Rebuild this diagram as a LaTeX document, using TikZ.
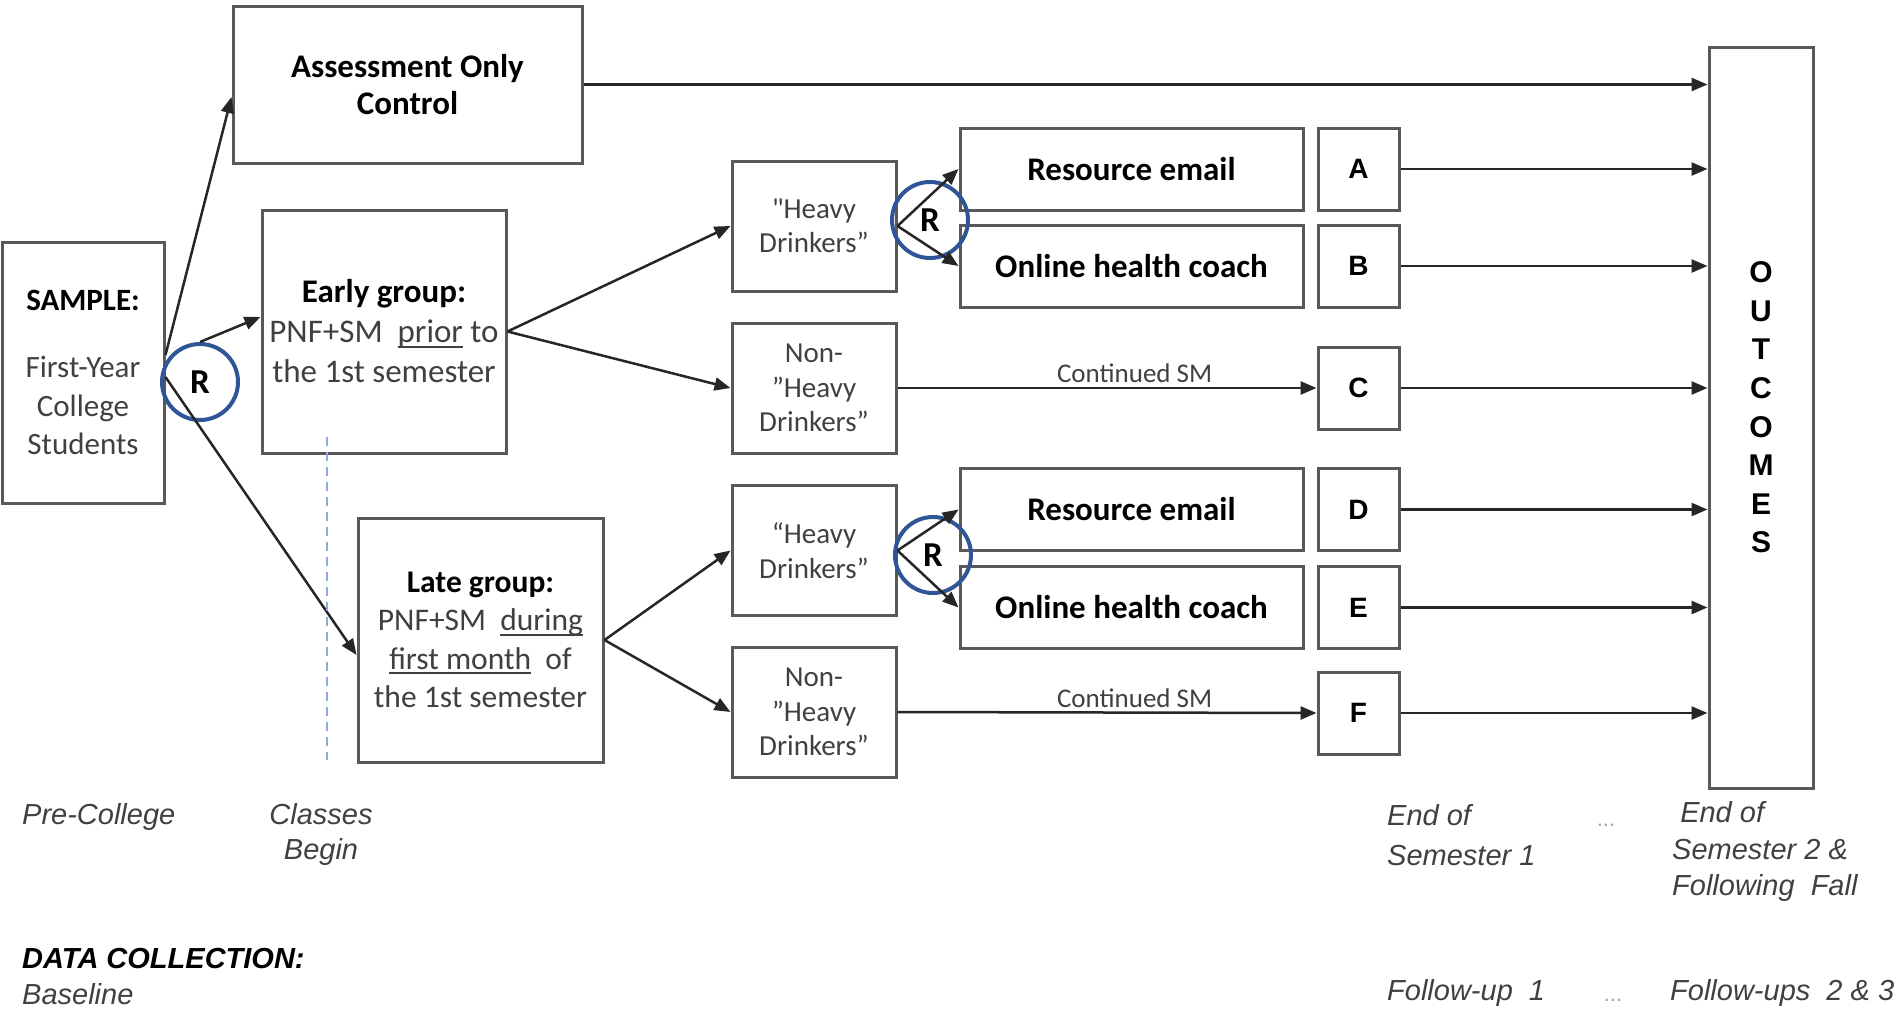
\documentclass[tikz,border=0pt]{standalone}
\usepackage{fontspec}
\setmainfont{Carlito}
\newfontfamily\arialfont{Liberation Sans}
\usetikzlibrary{arrows.meta}
\definecolor{boxgray}{HTML}{595959}
\definecolor{textgray}{HTML}{404040}
\definecolor{rblue}{HTML}{2F5597}
\definecolor{dashblue}{HTML}{8FAADC}
\definecolor{dotgray}{HTML}{A6A6A6}
\newcommand{\samplefont}{\fontsize{31}{38.5}\selectfont}
\newcommand{\assessfont}{\fontsize{33}{37}\selectfont\bfseries}
\newcommand{\earlyfont}{\fontsize{33}{40}\selectfont}
\newcommand{\latefont}{\fontsize{31.5}{38.3}\selectfont}
\newcommand{\drinkfont}{\fontsize{29}{34.5}\selectfont}
\newcommand{\armfont}{\fontsize{33}{40}\selectfont\bfseries}
\newcommand{\cellfont}{\arialfont\fontsize{28}{32}\selectfont\bfseries}
\newcommand{\outfont}{\arialfont\fontsize{30}{38.6}\selectfont\bfseries}
\newcommand{\rfont}{\fontsize{35}{40}\selectfont\bfseries}
\newcommand{\contfont}{\fontsize{27}{32}\selectfont}
\newcommand{\timefont}{\arialfont\fontsize{29}{36.5}\selectfont\itshape}
\newcommand{\undr}[1]{\setbox0\hbox{#1}\rlap{\rule[-5pt]{\wd0}{2pt}}\box0\relax}
\tikzstyle{blockstyle}=[draw=boxgray, line width=3pt, inner sep=0pt, align=center,
  text=textgray]
\tikzstyle{groupbox}=[blockstyle, minimum width=244pt, minimum height=243pt]
\tikzstyle{drinkbox}=[blockstyle, minimum width=164pt, minimum height=130pt,
  font=\drinkfont]
\tikzstyle{armbox}=[blockstyle, minimum width=343pt, minimum height=82pt,
  font=\armfont, text=black]
\tikzstyle{cellbox}=[blockstyle, minimum width=81pt, minimum height=82pt,
  font=\cellfont, text=black]
\tikzstyle{randcircle}=[circle, draw=rblue, line width=4pt, minimum size=76pt,
  inner sep=0pt, font=\rfont, text=black]
\tikzstyle{timelabel}=[font=\timefont, text=textgray, inner sep=0pt, align=left]
\tikzstyle{dots}=[font=\arialfont\fontsize{22}{22}\selectfont, text=dotgray, inner sep=0pt]
\tikzset{
    line/.style={draw=black!85, line width=2.5pt,
        -{Triangle[length=16pt,width=13pt]}}}
\newcommand{\cell}[2]{node (#1) [cellbox] {#2}}
\newcommand{\arm}[2]{node (#1) [armbox] {#2}}

\begin{document}
\begin{tikzpicture}[x=1pt, y=-1pt]
\useasboundingbox (0,0) rectangle (1896,1012);
% Draw diagram elements
\node (sample) [blockstyle, minimum width=162pt, minimum height=261pt,
  font=\samplefont] at (83,372.5)
  {\textcolor{black}{\textbf{SAMPLE:}}\\[29pt]First-Year\\College\\Students};
\node (assess) [blockstyle, minimum width=349pt, minimum height=157pt,
  font=\assessfont, text=black] at (407.5,84.5) {Assessment Only\\Control};
\node (early) [groupbox, font=\earlyfont] at (384,331.5)
  {\textcolor{black}{\textbf{Early group:}}\\PNF+SM\ \ \undr{prior} to\\the 1st semester};
\node (late) [groupbox, minimum width=245pt, minimum height=244pt, font=\latefont]
  at (480.5,640)
  {\textcolor{black}{\textbf{Late group:}}\\PNF+SM\ \ \undr{during}\\
   \undr{first month}\ \ of\\the 1st semester};

\node (heavyA) [drinkbox] at (814,226)   {\textquotedbl Heavy\\Drinkers”};
\node (nonA)   [drinkbox] at (814,388)   {Non-\\”Heavy\\Drinkers”};
\node (heavyB) [drinkbox] at (814,550.5) {“Heavy\\Drinkers”};
\node (nonB)   [drinkbox] at (814,712)   {Non-\\”Heavy\\Drinkers”};

\path (1131.5,169)   \arm{resA}{Resource email};
\path (1131.5,266)   \arm{onlA}{Online health coach};
\path (1131.5,509.5) \arm{resB}{Resource email};
\path (1131.5,607.5) \arm{onlB}{Online health coach};

\path (1358.5,169)   \cell{A}{A};
\path (1358.5,266)   \cell{B}{B};
\path (1358.5,388)   \cell{C}{C};
\path (1358.5,509.5) \cell{D}{D};
\path (1358.5,607.5) \cell{E}{E};
\path (1358.5,713)   \cell{F}{F};

\node (out) [blockstyle, minimum width=104pt, minimum height=741pt] at (1761,417.5) {};
\node (outtext) [font=\outfont, align=center, inner sep=0pt] at ([yshift=10pt]out.center)
  {O\\U\\T\\C\\O\\M\\E\\S};

% Randomisation points
\node (rS) [randcircle] at (200,382) {R};
\node (rA) [randcircle] at (930,220) {R};
\node (rB) [randcircle] at (933,555) {R};

% Draw arrows between elements
\path [line] ([yshift=17.5pt]sample.east) -- ([yshift=-12.5pt]assess.west);
\path [line] (rS.north) -- ([yshift=14.5pt]early.west);
\path [line] ([yshift=-4.5pt]sample.east) -- ([yshift=-15pt]late.west);
\path [line] (early.east) -- (heavyA.west);
\path [line] (early.east) -- (nonA.west);
\path [line] (late.east) -- (heavyB.west);
\path [line] (late.east) -- (nonB.west);
\foreach \h/\r/\o in {heavyA/resA/onlA, heavyB/resB/onlB} {
  \path [line] (\h.east) -- (\r.west);
  \path [line] (\h.east) -- (\o.west);
}
\path [line] (nonA.east) -- node [pos=0.566, above=4pt, font=\contfont,
  text=textgray, inner sep=0pt] {Continued SM} (C.west);
\path [line] (nonB.east) -- node [pos=0.566, above=4pt, font=\contfont,
  text=textgray, inner sep=0pt] {Continued SM} (F.west);
\path [line] (assess.east) -- (assess.east -| out.west);
\foreach \c in {A,B,C,D,E,F}
  \path [line] (\c.east) -- (\c.east -| out.west);

% Start of classes
\coordinate (classtop) at (327,437);
\coordinate (classbot) at (327,760);
\draw [dashblue, line width=2pt, dash pattern=on 9pt off 6pt] (classtop) -- (classbot);

% Time line and data collection
\node (pre) [timelabel, anchor=west] at (22,817) {Pre-College};
\node (begin) [timelabel, align=center, font=\arialfont\fontsize{29}{35}\selectfont\itshape]
  at (321,834.5) {Classes\\Begin};
\node (sem1) [timelabel, anchor=west, font=\arialfont\fontsize{29}{40}\selectfont\itshape]
  at (1387,835) {End of\\Semester 1};
\node (gapA) [dots] at (1606,825) {...};
\node (sem2) [timelabel, anchor=west] at (1672,851.5)
  {\ End of\\Semester 2 \&\\Following\ \ Fall};
\node (data) [timelabel, anchor=west, text=black,
  font=\arialfont\fontsize{29}{36}\selectfont\bfseries\itshape] at (22,959) {DATA COLLECTION:};
\node (base) [timelabel, anchor=west] at (22,994) {Baseline};
\node (fu1) [timelabel, anchor=west] at (1387,993) {Follow-up\ \ 1};
\node (gapB) [dots] at (1613,1000) {...};
\node (fu2) [timelabel, anchor=west] at (1670,993) {Follow-ups\ \ 2 \& 3};
\end{tikzpicture}
\end{document}
